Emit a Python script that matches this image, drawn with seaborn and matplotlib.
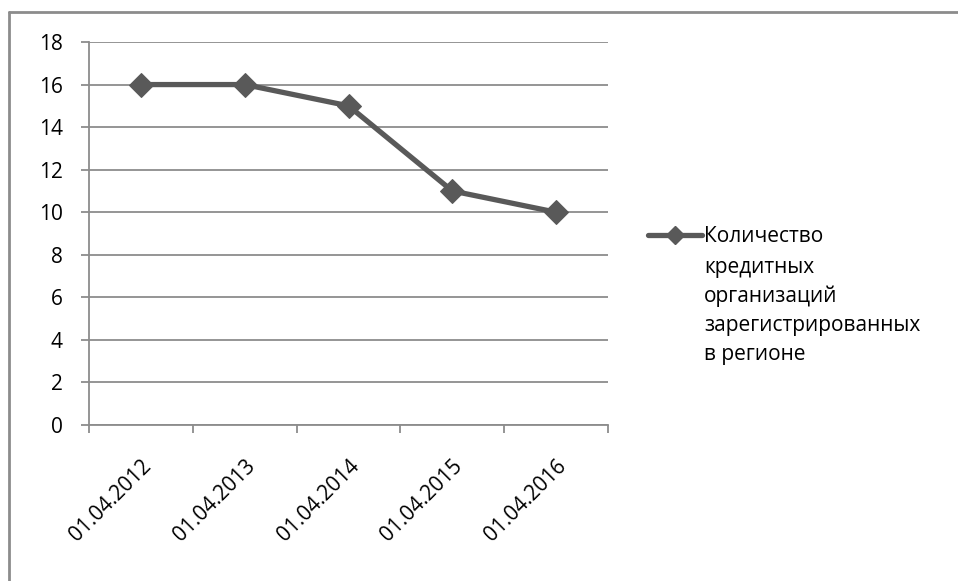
import matplotlib
matplotlib.use("Agg")
import matplotlib.pyplot as plt
from matplotlib.lines import Line2D
import seaborn as sns
import pandas as pd

dates = ["01.04.2012", "01.04.2013", "01.04.2014", "01.04.2015", "01.04.2016"]
counts = [16, 16, 15, 11, 10]
series_label = ["Количество", "кредитных", "организаций",
                "зарегистрированных", "в регионе"]
y_ticks = [0, 2, 4, 6, 8, 10, 12, 14, 16, 18]

sns.set_theme(style="white")
plt.rcParams["font.family"] = ["Open Sans", "DejaVu Sans"]
plt.rcParams["text.color"] = "black"

line_color = "#595959"
grid_color = "#8c8c8c"
fs = 15

df = pd.DataFrame({"date": dates, "count": counts})

fig = plt.figure(figsize=(9.58, 5.81), dpi=100)
ax = fig.add_axes([89 / 958, 1 - 425 / 581, (608 - 89) / 958, (425 - 42) / 581])

sns.lineplot(data=df, x="date", y="count", ax=ax, color=line_color,
             linewidth=3.8, marker="D", markersize=12, markeredgecolor=line_color,
             sort=False, legend=False)

ax.set_xlim(-0.5, len(dates) - 0.5)
ax.set_ylim(0, 18)
ax.set_yticks(y_ticks)
ax.set_yticklabels([str(v) for v in y_ticks], fontsize=fs, color="black")
ax.set_xticks(range(len(dates)))
ax.set_xticklabels(dates, rotation=45, ha="right", rotation_mode="anchor",
                   fontsize=fs, color="black")
ax.set_xticks([i - 0.5 for i in range(len(dates) + 1)], minor=True)
ax.tick_params(axis="x", which="major", length=0, pad=22)
ax.tick_params(axis="x", which="minor", length=6, width=1.3, color=grid_color,
               direction="out", bottom=True)
ax.tick_params(axis="y", which="major", length=6, width=1.3, color=grid_color,
               direction="out", left=True, pad=13)
ax.set_xlabel("")
ax.set_ylabel("")

ax.grid(axis="y", color=grid_color, linewidth=1.3)
ax.grid(axis="x", visible=False)
ax.set_axisbelow(True)
for side in ["top", "right"]:
    ax.spines[side].set_visible(False)
for side in ["left", "bottom"]:
    ax.spines[side].set_color(grid_color)
    ax.spines[side].set_linewidth(1.3)

# legend: handle beside the first line, remaining lines stacked below it
handle = Line2D([], [], color=line_color, linewidth=3.8, marker="D",
                markersize=9, markeredgecolor=line_color)
leg = ax.legend([handle], [series_label[0]], loc="center left",
                bbox_to_anchor=((648 - 89) / 519, 1 - (237 - 42) / 383),
                frameon=False, fontsize=fs, handlelength=2.6,
                handletextpad=0.1, borderaxespad=0, borderpad=0)
fig.canvas.draw()
first = leg.get_texts()[0]
bb = first.get_window_extent(renderer=fig.canvas.get_renderer())
x0, _ = fig.transFigure.inverted().transform((bb.x0, bb.y0))
_, y1 = fig.transFigure.inverted().transform((bb.x1, bb.y1))
top = y1 - 30 / 581
fig.text(x0, top, "\n".join(series_label[1:]), fontsize=fs, va="top",
         ha="left", linespacing=1.5, color="black")

# chart frame (left and top edges)
fig.add_artist(Line2D([9 / 958, 9 / 958], [0, 1 - 12 / 581],
                      transform=fig.transFigure, color=grid_color, linewidth=2))
fig.add_artist(Line2D([9 / 958, 1], [1 - 12 / 581, 1 - 12 / 581],
                      transform=fig.transFigure, color=grid_color, linewidth=2))

fig.savefig("out.png", dpi=100, facecolor="white")
